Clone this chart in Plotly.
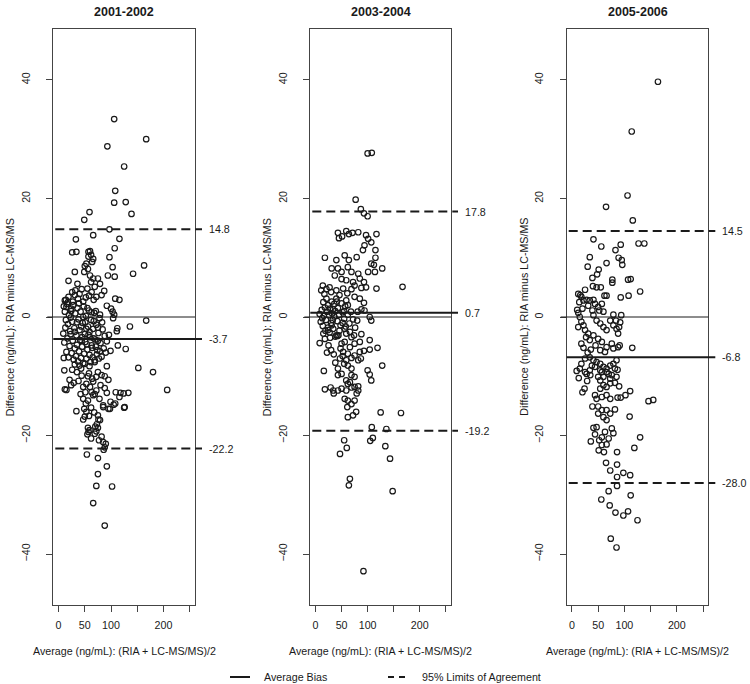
import plotly.graph_objects as go

# ---------------- data ----------------
panel_titles = ["2001-2002", "2003-2004", "2005-2006"]
bias = [-3.7, 0.7, -6.8]
loa_upper = [14.8, 17.8, 14.5]
loa_lower = [-22.2, -19.2, -28.0]
x_tickvals = [0, 50, 100, 150, 200, 250]
x_ticktext = ["0", "50", "100", "", "200", ""]
y_tickvals = [-40, -20, 0, 20, 40]
x_title = "Average (ng/mL): (RIA + LC-MS/MS)/2"
y_title = "Difference (ng/mL): RIA minus LC-MS/MS"
legend_labels = ["Average Bias", "95% Limits of Agreement"]

pts_2001_2002 = [
    (106, 33.4), (93, 28.8), (167, 30.0), (125, 25.4), (108, 21.3), (106, 19.3), (128, 19.4), (139, 17.4),
    (59, 17.7), (49, 16.4), (97, 14.8), (66, 13.8), (33, 13.1), (116, 13.2), (107, 11.6), (26, 10.9),
    (34, 11.0), (57, 11.0), (60, 11.1), (97, 10.1), (163, 8.7), (103, 8.4), (142, 7.3), (94, 7.0),
    (107, 6.8), (19, 6.1), (108, 3.1), (116, 2.9), (92, 1.9), (100, 1.4), (103, 0.9), (106, 0.4),
    (167, -0.6), (136, -1.6), (111, -2.4), (57, 10.2), (66, 9.8), (64, 9.3), (53, 9.0), (62, 10.5),
    (50, 8.6), (56, 8.1), (49, 7.6), (31, 7.6), (60, 7.0), (66, 6.5), (62, 5.9), (75, 6.5),
    (79, 5.6), (69, 5.1), (36, 5.6), (44, 4.7), (32, 4.5), (40, 3.9), (37, 3.1), (31, 3.7),
    (87, 4.4), (82, 3.7), (55, 4.8), (58, 3.6), (63, 4.2), (52, 3.3), (67, 2.9), (72, 3.4),
    (47, 2.6), (26, 4.2), (12, 2.8), (18, 2.5), (15, 1.7), (24, 1.4), (104, -0.2), (112, -1.9),
    (113, -4.8), (128, -5.4),
    (10, 1.8), (12, 0.9), (14, -0.5), (16, 2.2), (18, -1.2), (20, 0.3), (22, -2.4), (24, 1.0),
    (26, -0.8), (28, 2.0), (30, -1.9), (32, 0.6), (34, -3.1), (36, 1.5), (38, -0.4), (40, -2.2),
    (42, 0.9), (44, -4.0), (46, -1.0), (48, 1.8), (50, -2.9), (52, 0.2), (54, -4.6), (56, -1.6),
    (58, 1.1), (60, -3.4), (62, -0.5), (64, -5.2), (66, -2.0), (68, 0.7), (70, -3.8), (72, -1.3),
    (74, -5.6), (76, -2.7), (78, -0.2), (80, -4.4), (84, -2.1), (88, -3.2), (92, -4.1), (96, -3.0),
    (9, -2.8), (11, -4.3), (13, -1.8), (15, -5.9), (17, -3.6), (19, -6.8), (21, -4.9), (23, -2.9),
    (25, -6.1), (27, -4.0), (29, -7.2), (31, -5.3), (33, -6.6), (35, -4.7), (37, -7.5), (39, -5.8),
    (41, -3.9), (43, -6.9), (45, -5.0), (47, -7.8), (49, -6.2), (51, -4.2), (53, -7.0), (55, -5.5),
    (57, -3.0), (59, -6.4), (61, -7.6), (63, -4.8), (65, -6.8), (67, -3.6), (69, -7.3), (71, -5.0),
    (73, -6.3), (75, -4.0), (77, -7.0), (79, -5.8), (82, -6.7), (86, -5.3), (90, -6.0), (99, -5.7),
    (14, 2.9), (19, 3.4), (23, -0.1), (27, 2.6), (31, -2.5), (35, -0.9), (39, 2.3), (43, -1.6),
    (47, 0.0), (51, -0.9), (55, 1.5), (59, -2.5), (63, 0.8), (67, -0.7), (71, 1.0), (75, -1.8),
    (79, 0.4), (83, -0.9), (45, -3.4), (53, -2.0),
    (152, -8.6), (180, -9.3), (92, -8.3), (11, -9.0), (10, -6.9), (31, -8.0), (40, -8.2), (50, -7.9),
    (59, -8.3), (43, -8.7), (69, -7.6), (75, -9.3), (72, -10.1), (82, -9.8), (88, -10.0), (95, -10.6),
    (21, -10.6), (29, -11.1), (24, -11.5), (15, -12.3), (12, -12.2), (38, -10.8), (47, -11.8), (53, -11.3),
    (60, -11.8), (51, -12.7), (42, -13.0), (63, -12.7), (69, -13.0), (72, -12.4), (66, -13.2), (92, -12.8),
    (109, -12.7), (118, -12.8), (124, -12.9), (133, -12.8), (116, -13.5), (126, -15.2), (99, -14.3), (108, -14.6),
    (85, -14.9), (95, -15.5), (47, -13.8), (56, -14.1), (52, -14.6), (49, -15.5), (53, -16.0), (50, -16.8),
    (47, -17.3), (34, -15.9), (207, -12.3), (105, -14.8), (125, -15.3), (98, -15.5), (85, -15.2), (75, -16.6),
    (79, -17.4), (73, -18.1), (75, -18.7), (56, -18.7), (59, -19.1), (55, -19.8), (69, -19.7), (62, -20.5),
    (82, -20.2), (77, -20.8), (85, -21.1), (88, -22.0), (57, -19.4), (70, -18.5), (72, -19.3), (76, -17.3),
    (58, -9.5), (64, -10.4), (35, -9.3), (26, -8.9), (80, -11.5), (44, -9.9), (66, -10.9), (56, -10.0),
    (78, -13.8), (62, -15.3), (68, -16.1), (58, -16.7), (88, -12.0),
    (54, -23.2), (75, -23.8), (92, -25.2), (75, -26.5), (72, -28.5), (102, -28.6), (66, -31.4), (88, -35.2),
    (90, -21.4), (86, -22.4),
]

pts_2003_2004 = [
    (100, 27.6), (108, 27.7), (77, 19.8), (87, 18.2), (93, 17.5), (100, 17.0),
    (43, 14.2), (45, 13.3), (51, 13.6), (59, 14.5), (64, 14.0), (71, 14.2), (82, 14.3), (97, 13.8),
    (117, 14.0), (101, 13.2), (94, 12.1), (91, 11.3), (107, 12.6), (115, 11.3), (115, 10.0), (112, 8.8),
    (107, 9.0), (114, 7.6), (128, 8.2), (101, 7.6), (117, 4.8), (167, 5.1),
    (18, 10.0), (40, 9.6), (56, 10.4), (64, 9.6), (79, 10.1),
    (31, 8.2), (43, 8.2), (50, 7.6), (62, 8.4), (69, 7.6), (82, 7.3), (85, 6.5),
    (37, 7.0), (50, 6.4), (59, 6.2), (72, 5.9), (75, 5.3), (88, 4.9), (93, 5.9), (97, 5.0),
    (14, 5.3), (21, 4.7), (27, 5.0), (11, 4.5), (17, 3.9), (30, 4.2), (40, 4.5), (46, 3.7),
    (53, 4.8), (61, 4.0), (69, 4.7), (75, 3.4),
    (21, 3.1), (31, 2.6), (40, 3.1), (50, 2.3), (59, 2.8), (43, 1.5), (55, 1.0), (34, 1.3), (24, 2.0),
    (85, 3.1), (88, 1.3), (81, 0.9), (104, 0.0), (107, -0.6), (93, 2.4), (94, 1.1),
    (8, 0.5), (10, -0.8), (12, 1.2), (14, -1.5), (16, 0.2), (18, 1.6), (20, -0.5), (22, 0.9),
    (24, -1.8), (26, 0.3), (28, 1.4), (30, -1.0), (32, 0.6), (34, -2.0), (36, 0.1), (38, 1.0),
    (42, -0.7), (45, 0.4), (48, -1.4), (52, 0.8), (55, -0.3), (58, -1.6), (62, 0.4), (65, -1.1),
    (68, 0.9), (72, -0.4), (76, -1.8), (80, -0.6), (15, 2.5), (27, -2.6), (36, 2.2), (46, -2.3),
    (57, 1.8), (66, -2.5), (13, -0.2), (41, 2.6), (62, 2.0), (19, -2.3), (52, -1.0), (33, -0.5),
    (8, -4.4), (18, -3.7), (15, -2.8), (24, -2.2), (31, -1.4), (40, -3.1), (44, -3.1), (38, -3.3),
    (42, -3.2), (56, -2.0), (59, -2.8), (69, -3.4), (74, -3.1), (88, -2.9),
    (50, -4.5), (56, -4.2), (66, -5.1), (75, -4.5), (85, -4.2), (104, -3.9),
    (53, -5.9), (62, -6.2), (75, -6.5), (85, -5.9), (93, -5.7), (104, -5.5), (119, -5.2),
    (47, -7.0), (59, -7.3), (69, -6.9), (82, -7.3), (87, -7.0),
    (25, -4.8), (30, -5.6), (35, -6.3), (28, -3.5), (48, -5.3), (38, -7.7), (52, -6.6), (22, -6.0),
    (16, -9.1), (43, -8.7), (55, -7.9), (62, -8.2), (69, -8.7), (50, -9.6), (43, -9.8), (128, -8.2),
    (100, -9.0), (104, -9.7), (107, -10.7), (59, -10.7), (62, -11.3), (66, -11.0), (69, -9.8), (75, -10.1),
    (18, -12.2), (29, -11.9), (34, -12.4), (35, -12.9), (43, -12.4), (50, -12.1), (59, -12.4), (69, -11.9),
    (75, -11.8), (82, -12.4), (82, -11.7), (79, -12.9),
    (56, -13.8), (62, -14.1), (69, -14.7), (75, -14.1), (61, -15.2),
    (62, -16.9), (72, -16.6), (78, -16.0), (125, -16.1), (164, -16.2),
    (108, -18.6), (136, -18.9), (55, -20.8), (60, -22.1), (47, -23.1), (105, -20.9), (110, -20.4),
    (134, -21.8), (143, -23.9), (66, -27.3), (64, -28.4), (148, -29.4), (92, -42.9),
]

pts_2005_2006 = [
    (164, 39.7), (114, 31.3), (106, 20.5), (65, 18.6), (116, 16.3), (127, 12.4), (138, 12.4), (41, 13.1),
    (56, 11.9), (83, 11.3), (93, 12.2), (34, 10.1), (89, 10.0), (95, 9.6), (96, 8.8), (30, 8.5),
    (51, 8.0), (48, 7.2), (66, 9.1), (39, 6.6), (77, 6.3), (77, 5.8), (107, 6.3), (112, 6.4),
    (40, 5.2), (47, 5.0), (55, 5.0), (25, 4.6), (130, 4.3), (62, 3.6), (66, 3.6), (108, 3.6),
    (93, 3.3), (79, 0.4), (94, 0.3),
    (12, 3.9), (18, 3.4), (22, 2.8), (28, 2.9), (14, 2.5), (34, 2.8), (41, 2.9), (44, 2.2),
    (31, 1.9), (39, 1.1), (50, 1.7), (57, 2.2), (52, 1.1), (60, 0.9), (16, 3.7), (20, 1.4), (10, 1.2),
    (12, 0.7), (15, 0.0), (18, -0.8), (22, -1.4), (12, -1.7), (25, -2.2), (31, -2.8), (27, -3.4),
    (34, -3.9), (18, -4.5),
    (41, 0.3), (47, -0.6), (54, -1.1), (60, -1.7), (66, -2.2), (73, -0.6), (79, -1.4), (85, -2.0),
    (92, -0.9), (88, -2.8), (84, -0.6), (90, -1.7),
    (41, -3.1), (50, -3.7), (57, -4.2), (66, -5.1), (76, -4.5), (79, -5.3), (88, -5.1), (115, -5.2),
    (54, -5.6), (63, -5.9), (91, -4.8), (22, -5.2), (30, -6.0), (45, -4.8), (36, -5.5),
    (25, -7.0), (34, -6.8), (41, -7.3), (47, -7.6), (38, -8.2), (44, -8.4), (54, -7.9), (60, -8.4),
    (66, -8.7), (73, -8.2), (79, -7.9), (85, -7.3), (82, -8.7), (70, -9.6), (57, -9.3), (34, -9.0),
    (28, -9.6), (15, -8.7), (9, -9.1), (50, -10.1), (73, -10.4), (85, -10.1),
    (18, -7.9), (25, -9.3), (35, -9.8), (54, -9.0), (60, -10.1), (66, -9.3), (76, -9.8), (87, -8.9),
    (54, -10.7), (60, -11.5), (54, -12.1), (66, -11.8), (73, -11.2), (82, -11.1), (90, -11.7), (44, -13.2),
    (47, -13.8), (57, -13.5), (66, -13.2), (73, -13.8), (87, -13.6), (39, -15.1), (50, -15.1), (57, -15.7),
    (66, -15.7), (73, -16.3), (82, -15.6), (50, -16.3), (60, -16.9), (66, -17.4), (76, -18.8), (79, -19.6),
    (63, -19.4), (70, -20.5), (57, -20.3),
    (20, -12.7), (24, -12.1), (29, -10.8), (13, -10.3),
    (111, -12.5), (102, -13.2), (93, -13.6), (146, -14.2), (155, -14.0), (110, -16.8), (130, -20.3), (119, -22.1),
    (86, -22.8), (65, -24.6), (73, -25.9), (86, -24.9), (86, -27.0), (98, -26.3), (111, -26.7), (70, -29.4),
    (86, -28.5), (112, -30.1), (56, -30.8), (72, -31.8), (83, -33.0), (98, -33.5), (107, -32.8), (125, -34.3),
    (74, -37.4), (85, -38.9), (36, -21.0), (41, -18.7), (47, -18.6), (44, -19.8), (52, -20.8), (51, -22.5),
    (57, -21.6), (61, -22.8), (66, -21.5),
]

panel_points = [pts_2001_2002, pts_2003_2004, pts_2005_2006]

# ---------------- layout geometry (pixels) ----------------
W, H = 750, 684
box_left = [53.3, 310.3, 566.7]
box_right = [195.0, 451.0, 708.3]
box_top, box_bottom = 29.0, 605.0
x_range = [-10, 260]
y_range = [-48.6, 48.6]


def fx(px):
    return px / W


def fy(py):
    return 1 - py / H


FONT = "Liberation Sans, Arial, Helvetica, sans-serif"
INK = "#1a1a1a"
FRAME = "#444444"

fig = go.Figure()
shapes = []
annotations = []
layout_axes = {}

for i in range(3):
    sfx = "" if i == 0 else str(i + 1)
    xid, yid = "x" + sfx, "y" + sfx
    pts = panel_points[i]
    fig.add_trace(go.Scatter(
        x=[p[0] for p in pts], y=[p[1] for p in pts],
        mode="markers", xaxis=xid, yaxis=yid, showlegend=False,
        marker=dict(symbol="circle-open", size=5.5, color=INK, line=dict(width=1.2, color=INK)),
        hoverinfo="x+y",
    ))
    L, R = box_left[i], box_right[i]
    layout_axes["xaxis" + sfx] = dict(
        domain=[fx(L), fx(R)], range=x_range, anchor=yid,
        tickvals=x_tickvals, ticktext=x_ticktext, ticks="outside", ticklen=6,
        tickwidth=1, tickcolor=FRAME, showline=True, mirror=True, linecolor=FRAME,
        linewidth=1, showgrid=False, zeroline=False, ticklabelstandoff=4,
        tickfont=dict(family=FONT, size=10.7, color=INK), fixedrange=True,
    )
    layout_axes["yaxis" + sfx] = dict(
        domain=[fy(box_bottom), fy(box_top)], range=y_range, anchor=xid,
        tickvals=y_tickvals, ticks="outside", ticklen=6, tickwidth=1, tickcolor=FRAME,
        tickangle=-90, showline=True, mirror=True, linecolor=FRAME, linewidth=1,
        showgrid=False, zeroline=False, ticklabelstandoff=12,
        tickfont=dict(family=FONT, size=10.7, color=INK), fixedrange=True,
    )
    # zero reference line
    shapes.append(dict(type="line", xref="paper", yref=yid, x0=fx(L - 6), x1=fx(R),
                       y0=0, y1=0, line=dict(color=INK, width=1)))
    # average bias
    shapes.append(dict(type="line", xref="paper", yref=yid, x0=fx(L), x1=fx(R + 7),
                       y0=bias[i], y1=bias[i], line=dict(color=INK, width=2)))
    # limits of agreement
    for v in (loa_upper[i], loa_lower[i]):
        shapes.append(dict(type="line", xref="paper", yref=yid, x0=fx(L + 2), x1=fx(R + 7),
                           y0=v, y1=v, line=dict(color=INK, width=2, dash="9px,5px")))
    for v in (loa_upper[i], bias[i], loa_lower[i]):
        annotations.append(dict(x=fx(R + 12), y=v, xref="paper", yref=yid, text=f"{v:.1f}",
                                showarrow=False, xanchor="left", yanchor="middle",
                                font=dict(family=FONT, size=10.7, color=INK)))
    cx = fx((L + R) / 2)
    annotations.append(dict(x=cx, y=fy(12), xref="paper", yref="paper",
                            text=f"<b>{panel_titles[i]}</b>", showarrow=False,
                            xanchor="center", yanchor="middle",
                            font=dict(family=FONT, size=12.5, color=INK)))
    annotations.append(dict(x=cx, y=fy(651), xref="paper", yref="paper", text=x_title,
                            showarrow=False, xanchor="center", yanchor="middle",
                            font=dict(family=FONT, size=10.7, color=INK)))
    annotations.append(dict(x=fx(L - 43), y=fy((box_top + box_bottom) / 2), xref="paper",
                            yref="paper", text=y_title, textangle=-90, showarrow=False,
                            xanchor="center", yanchor="middle",
                            font=dict(family=FONT, size=10.7, color=INK)))

# ---------------- legend (bottom) ----------------
leg_y = fy(677)
shapes.append(dict(type="line", xref="paper", yref="paper", x0=fx(230), x1=fx(250),
                   y0=leg_y, y1=leg_y, line=dict(color=INK, width=2)))
shapes.append(dict(type="line", xref="paper", yref="paper", x0=fx(388), x1=fx(408),
                   y0=leg_y, y1=leg_y, line=dict(color=INK, width=2, dash="6px,5px")))
annotations.append(dict(x=fx(262), y=leg_y, xref="paper", yref="paper", text=legend_labels[0],
                        showarrow=False, xanchor="left", yanchor="middle",
                        font=dict(family=FONT, size=10.7, color=INK)))
annotations.append(dict(x=fx(420), y=leg_y, xref="paper", yref="paper", text=legend_labels[1],
                        showarrow=False, xanchor="left", yanchor="middle",
                        font=dict(family=FONT, size=10.7, color=INK)))

fig.update_layout(
    width=W, height=H, margin=dict(l=0, r=0, t=0, b=0),
    paper_bgcolor="white", plot_bgcolor="white",
    shapes=shapes, annotations=annotations, showlegend=False,
    font=dict(family=FONT, size=10.7, color=INK),
    **layout_axes,
)

fig.write_html("out.html", config={"displayModeBar": False},
               post_script="document.body.style.margin='0';document.body.style.overflow='hidden';")
